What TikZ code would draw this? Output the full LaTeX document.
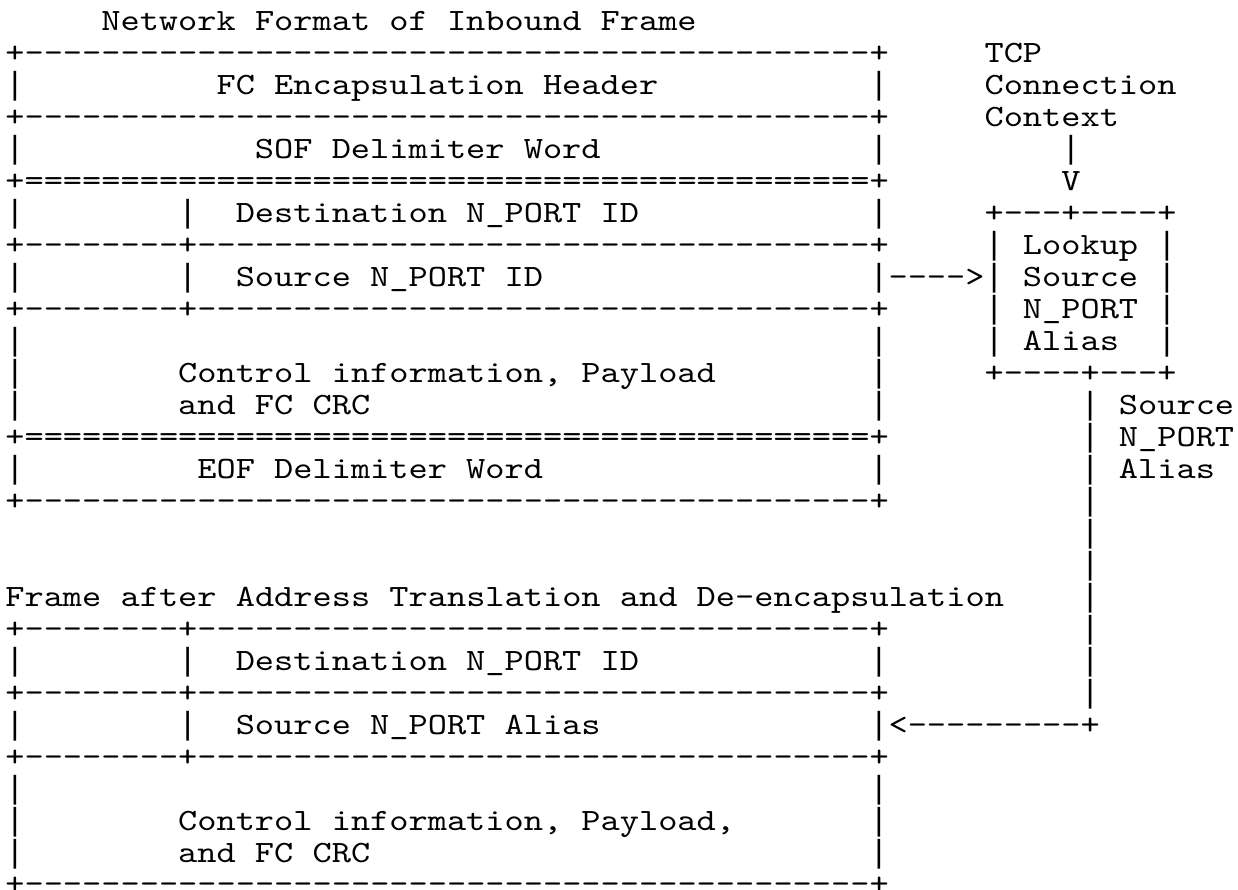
\documentclass[tikz,border=0pt]{standalone}
\usepackage{fontspec}
\newfontfamily\asciifont{lmmono10-regular.otf}[FakeStretch=1.18]
\newfontfamily\barfont{Liberation Mono}
\usepackage{tikz}

% a run of n copies of one character, kept apart so no ligature forms
\newcommand\rul[2]{\foreach\k in {1,...,#1}{#2\kern0pt}}
% the bar character, from a face whose bar fills the line
\newcommand\vb{{\barfont\fontsize{16}{16}\selectfont|}}

\begin{document}
\begin{tikzpicture}[
    x=9.6pt, y=-16pt,
    asc/.style={
      anchor=base west,
      inner sep=0pt,
      outer sep=0pt,
      font=\asciifont\fontsize{15.5}{16}\selectfont
    }
]
\useasboundingbox[fill=white] (-0.28,0.0625) rectangle (64.2,27.875);

%% Inbound frame
\node [asc] (intitle) at (5,1) {Network Format of Inbound Frame};
\foreach \r in {2,4,16,28} \node [asc] (edge\r) at (0,\r) {+\rul{44}{-}+};
\foreach \r in {6,14} \node [asc] (dbl\r) at (0,\r) {+\rul{44}{=}+};
\foreach \r in {8,10,20,22,24} \node [asc] (split\r) at (0,\r) {+\rul{8}{-}+\rul{35}{-}+};
\foreach \r in {3,5,7,9,11,12,13,15,21,23,25,26,27} \node [asc] (lb\r) at (0,\r) {\vb};
\foreach \r in {3,5,7,11,12,13,15,21,25,26,27} \node [asc] (rb\r) at (45,\r) {\vb};
\foreach \r in {7,9,21,23} \node [asc] (ib\r) at (9,\r) {\vb};

\node [asc] (fchdr) at (11,3) {FC Encapsulation Header};
\node [asc] (sof) at (13,5) {SOF Delimiter Word};
\node [asc] (dst) at (12,7) {Destination N\_PORT ID};
\node [asc] (src) at (12,9) {Source N\_PORT ID};
\node [asc] (ctl) at (9,12) {Control information, Payload};
\node [asc] (crc) at (9,13) {and FC CRC};
\node [asc] (eof) at (10,15) {EOF Delimiter Word};

%% Frame after translation
\node [asc] (outtitle) at (0,19) {Frame after Address Translation and De-encapsulation};
\node [asc] (outdst) at (12,21) {Destination N\_PORT ID};
\node [asc] (outsrc) at (12,23) {Source N\_PORT Alias};
\node [asc] (outctl) at (9,26) {Control information, Payload,};
\node [asc] (outcrc) at (9,27) {and FC CRC};

%% TCP context and lookup
\node [asc] (tcp) at (51,2) {TCP};
\node [asc] (conn) at (51,3) {Connection};
\node [asc] (ctx) at (51,4) {Context};
\node [asc] (ctxbar) at (55,5) {\vb};
\node [asc] (ctxv) at (55,6) {V};
\node [asc] (lktop) at (51,7) {+\rul{3}{-}+\rul{4}{-}+};
\foreach \r/\t in {8/Lookup,9/Source,10/N\_PORT,11/Alias} {
  \node [asc] (lkl\r) at (51,\r) {\vb};
  \node [asc] (lk\r) at (53,\r) {\t};
  \node [asc] (lkr\r) at (60,\r) {\vb};
}
\node [asc] (lkbot) at (51,12) {+\rul{4}{-}+\rul{3}{-}+};

%%% Arrows
\node [asc] (toLookup) at (45,9) {\vb\rul{4}{-}>};
\foreach \r in {13,...,22} \node [asc] (ret\r) at (56,\r) {\vb};
\node [asc] (alias1) at (58,13) {Source};
\node [asc] (alias2) at (58,14) {N\_PORT};
\node [asc] (alias3) at (58,15) {Alias};
\node [asc] (back) at (45,23) {\vb<\rul{9}{-}+};
\end{tikzpicture}
\end{document}
